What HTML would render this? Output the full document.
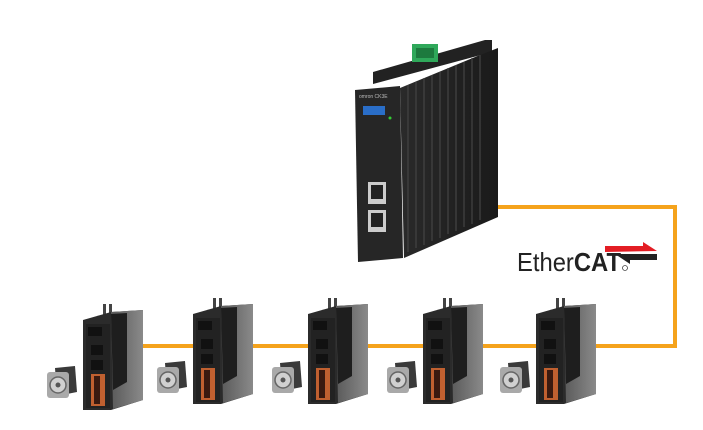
<!DOCTYPE html>
<html><head><meta charset="utf-8"><style>
html,body{margin:0;padding:0;background:#fff;width:703px;height:430px;overflow:hidden}
svg{display:block}
</style></head><body>
<svg width="703" height="430" viewBox="0 0 703 430" xmlns="http://www.w3.org/2000/svg">
<defs>
<linearGradient id="side" x1="0" x2="1"><stop offset="0" stop-color="#2a2a2a"/><stop offset="1" stop-color="#1a1a1a"/></linearGradient>
<linearGradient id="dside" x1="0" x2="1"><stop offset="0" stop-color="#5a5a5a"/><stop offset="1" stop-color="#8a8a8a"/></linearGradient>
<g id="drive">
  <rect x="20" y="-8" width="3" height="14" fill="#444"/><rect x="26" y="-8" width="3" height="14" fill="#444"/>
  <polygon points="14,4 36,0 36,6 14,10" fill="#333"/>
  <polygon points="0,8 28,0 60,-2 60,88 28,98 0,98" fill="#2b2b2b"/>
  <polygon points="28,0 60,-2 60,88 30,97" fill="url(#dside)"/>
  <polygon points="28,2 44,1 44,70 30,78" fill="#1e1e1e"/>
  <rect x="3" y="12" width="24" height="84" fill="#222"/>
  <rect x="5" y="15" width="14" height="9" fill="#111"/>
  <rect x="8" y="33" width="12" height="10" fill="#111"/>
  <rect x="8" y="48" width="12" height="10" fill="#111"/>
  <rect x="8" y="62" width="14" height="32" fill="#c06030"/>
  <rect x="11" y="64" width="6" height="28" fill="#3a1a10"/>
</g>
<g id="motor">
  <polygon points="8,0 28,-2 30,24 10,28" fill="#3a3a3a"/>
  <rect x="0" y="4" width="22" height="26" rx="3" fill="#a9a9a9"/>
  <circle cx="11" cy="17" r="8" fill="#d0d0d0" stroke="#666" stroke-width="1.5"/>
  <circle cx="11" cy="17" r="2.5" fill="#555"/>
</g>
</defs>
<polyline points="490,207 675,207 675,346 100,346" fill="none" stroke="#f5a31c" stroke-width="4"/>
<polygon points="373,72 485,40 492,40 492,52 373,84" fill="#222"/>
<rect x="412" y="44" width="26" height="18" fill="#2fa85a"/>
<rect x="416" y="48" width="18" height="10" fill="#1d7a3e"/>
<polygon points="400,88 480,55 498,48 498,217 404,258" fill="url(#side)"/>
<g stroke="#444" stroke-width="1.2">
<line x1="408" y1="85" x2="408" y2="252"/><line x1="416" y1="82" x2="416" y2="248"/><line x1="424" y1="78" x2="424" y2="245"/><line x1="432" y1="75" x2="432" y2="241"/><line x1="440" y1="72" x2="440" y2="238"/><line x1="448" y1="68" x2="448" y2="234"/><line x1="456" y1="65" x2="456" y2="231"/><line x1="464" y1="62" x2="464" y2="227"/><line x1="472" y1="58" x2="472" y2="224"/><line x1="480" y1="55" x2="480" y2="220"/></g>
<polygon points="355,90 400,86 403,258 358,262" fill="#262626"/>
<rect x="363" y="106" width="22" height="9" fill="#2a6ec8"/>
<rect x="368" y="182" width="18" height="22" fill="#ccc"/><rect x="371" y="185" width="12" height="14" fill="#222"/>
<rect x="368" y="210" width="18" height="22" fill="#ccc"/><rect x="371" y="213" width="12" height="14" fill="#222"/>
<circle cx="390" cy="118" r="1.5" fill="#3c3"/>
<text x="359" y="98" font-family="Liberation Sans, sans-serif" font-size="5" fill="#bbb">omron CK3E</text>
<text x="517" y="271" font-family="Liberation Sans, sans-serif" font-size="26" fill="#222" textLength="104" lengthAdjust="spacingAndGlyphs">Ether<tspan font-weight="bold">CAT</tspan></text>
<circle cx="625" cy="268" r="2.5" fill="none" stroke="#444" stroke-width="0.8"/>
<polygon points="605,246 643,246 643,242 657,251 605,252" fill="#e31d24"/>
<polygon points="615,254 657,254 657,260 630,260 630,264" fill="#222"/>
<use href="#drive" x="83" y="312"/><use href="#motor" x="47" y="368"/>
<use href="#drive" x="193" y="306"/><use href="#motor" x="157" y="363"/>
<use href="#drive" x="308" y="306"/><use href="#motor" x="272" y="363"/>
<use href="#drive" x="423" y="306"/><use href="#motor" x="387" y="363"/>
<use href="#drive" x="536" y="306"/><use href="#motor" x="500" y="363"/>
</svg>
</body></html>
